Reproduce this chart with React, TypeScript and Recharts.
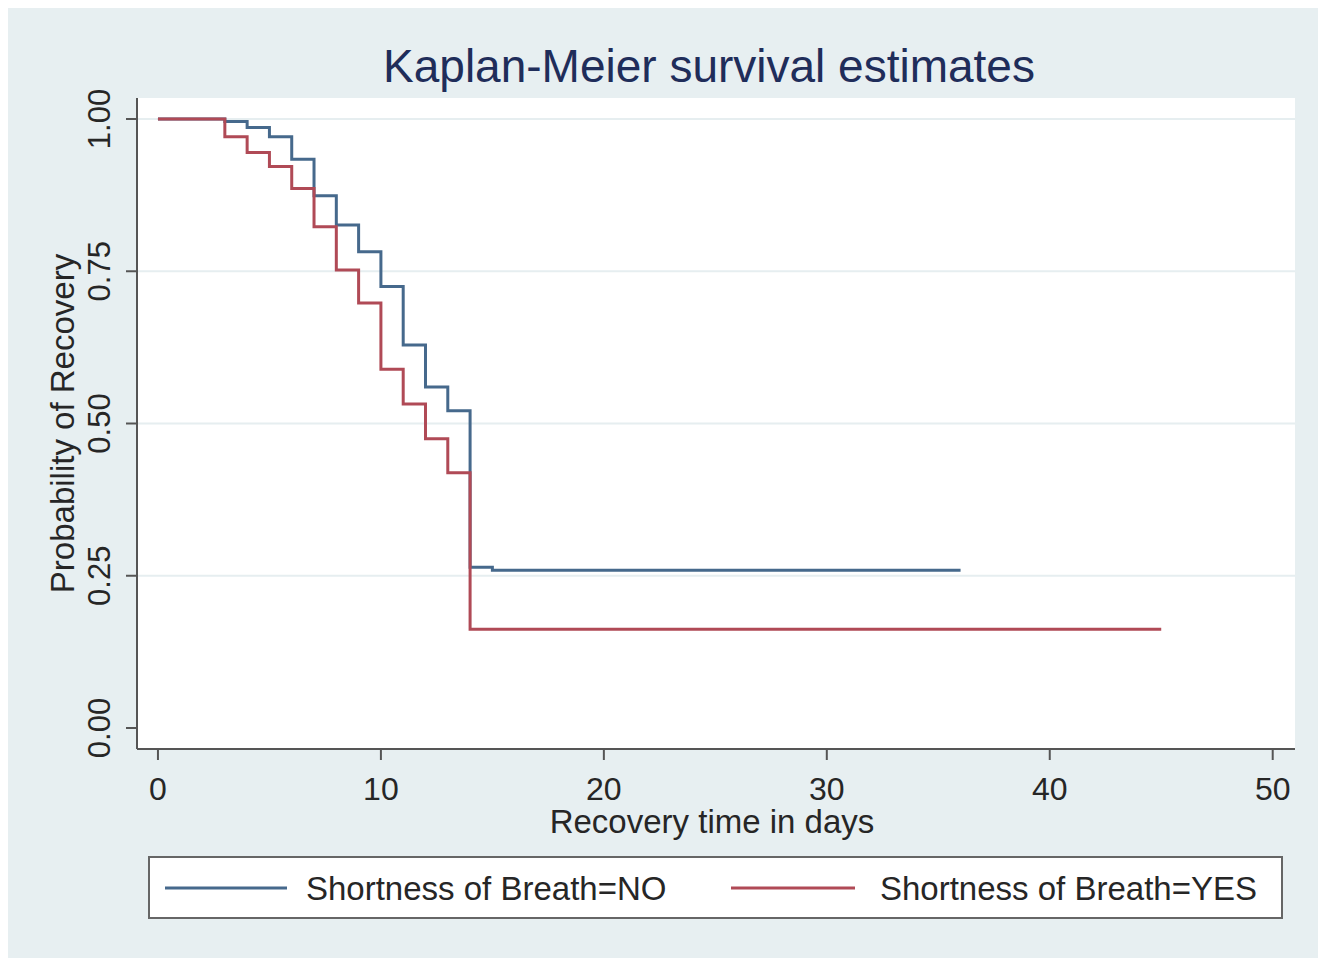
import { LineChart, Line, XAxis, YAxis, CartesianGrid, Label } from 'recharts'

const FONT = '"Liberation Sans", Arial, sans-serif'
const BLUE = '#46698c'
const RED = '#b04a56'
const INK = '#262626'

// Kaplan-Meier step values
const noTimes = [0, 3, 4, 5, 6, 7, 8, 9, 10, 11, 12, 13, 14, 15, 36]
const noSurv = [1, 0.996, 0.986, 0.971, 0.934, 0.874, 0.826, 0.782, 0.725, 0.629, 0.56, 0.521, 0.264, 0.259, 0.259]
const yesTimes = [0, 3, 4, 5, 6, 7, 8, 9, 10, 11, 12, 13, 14, 45]
const yesSurv = [1, 0.971, 0.945, 0.922, 0.886, 0.823, 0.752, 0.698, 0.589, 0.532, 0.475, 0.419, 0.162, 0.162]

const xTicks = [0, 10, 20, 30, 40, 50]
const yTicks = [0, 0.25, 0.5, 0.75, 1]
const gridValues = [0.25, 0.5, 0.75, 1]

const noData = noTimes.map((t, i) => ({ t, s: noSurv[i] }))
const yesData = yesTimes.map((t, i) => ({ t, s: yesSurv[i] }))

const YTick = ({ x, y, payload }: any) => {
  const bx = x - 14
  return (
    <text
      x={bx}
      y={y}
      transform={`rotate(-90, ${bx}, ${y})`}
      textAnchor="middle"
      fontSize={31}
      fontFamily={FONT}
      fill={INK}
    >
      {Number(payload.value).toFixed(2)}
    </text>
  )
}

export default function App() {
  return (
    <div style={{ width: 1310, height: 950, background: '#e7eff1' }}>
      <LineChart
        width={1310}
        height={950}
        margin={{ top: 90, right: 23, bottom: 149, left: 0 }}
      >
        <CartesianGrid
          vertical={false}
          horizontalValues={gridValues}
          fill="#ffffff"
          stroke="#e6eef0"
          strokeWidth={2}
        />
        <XAxis
          type="number"
          dataKey="t"
          domain={[-0.94, 51]}
          ticks={xTicks}
          allowDataOverflow
          height={60}
          tickSize={11}
          tickMargin={17}
          axisLine={{ stroke: '#555', strokeWidth: 2 }}
          tickLine={{ stroke: '#555', strokeWidth: 2 }}
          tick={{ fill: INK, fontSize: 32, fontFamily: FONT }}
        >
          <Label
            value="Recovery time in days"
            position="bottom"
            offset={1}
            dx={-4}
            fill={INK}
            fontSize={33}
            fontFamily={FONT}
          />
        </XAxis>
        <YAxis
          type="number"
          dataKey="s"
          domain={[-0.0345, 1.0345]}
          ticks={yTicks}
          allowDataOverflow
          width={129}
          tickSize={11}
          tickMargin={2}
          axisLine={{ stroke: '#555', strokeWidth: 2 }}
          tickLine={{ stroke: '#555', strokeWidth: 2 }}
          tick={<YTick />}
        >
          <Label
            value="Probability of Recovery"
            angle={-90}
            position="insideLeft"
            offset={54}
            textAnchor="middle"
            fill={INK}
            fontSize={33}
            fontFamily={FONT}
          />
        </YAxis>
        <Line
          data={noData}
          dataKey="s"
          type="stepAfter"
          stroke={BLUE}
          strokeWidth={3}
          dot={false}
          activeDot={false}
          isAnimationActive={false}
        />
        <Line
          data={yesData}
          dataKey="s"
          type="stepAfter"
          stroke={RED}
          strokeWidth={3}
          dot={false}
          activeDot={false}
          isAnimationActive={false}
        />

        {/* title */}
        <text x={701} y={74} textAnchor="middle" fontSize={46} fontFamily={FONT} fill="#1f2d5a">
          Kaplan-Meier survival estimates
        </text>

        {/* legend */}
        <g>
          <rect x={141} y={849} width={1133} height={61} fill="#fff" stroke="#666" strokeWidth={2} />
          <line x1={157} y1={880} x2={279} y2={880} stroke={BLUE} strokeWidth={3} />
          <text x={298} y={892} fontSize={33} fontFamily={FONT} fill={INK}>Shortness of Breath=NO</text>
          <line x1={723} y1={880} x2={847} y2={880} stroke={RED} strokeWidth={3} />
          <text x={872} y={892} fontSize={33} fontFamily={FONT} fill={INK}>Shortness of Breath=YES</text>
        </g>
      </LineChart>
    </div>
  )
}
